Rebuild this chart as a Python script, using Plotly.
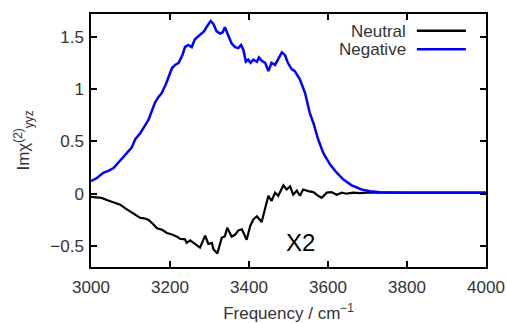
import plotly.graph_objects as go

# Negative (blue) series
neg_freq = [3000, 3015, 3031, 3045, 3057, 3070, 3082, 3093, 3103, 3112, 3125, 3135, 3146, 3155, 3162,
            3170, 3179, 3190, 3198, 3205, 3213, 3222, 3232, 3238, 3246, 3255, 3263, 3276, 3286, 3293,
            3303, 3310, 3318, 3327, 3333, 3339, 3348, 3356, 3365, 3373, 3380, 3386, 3392, 3398, 3404,
            3411, 3420, 3425, 3432, 3441, 3449, 3457, 3466, 3474, 3483, 3491, 3499, 3508, 3516, 3529,
            3542, 3554, 3563, 3575, 3588, 3605, 3622, 3639, 3660, 3685, 3706, 3732, 3760, 3800, 3900, 4000]
neg_vals = [0.12, 0.15, 0.20, 0.22, 0.245, 0.30, 0.36, 0.40, 0.44, 0.52, 0.58, 0.64, 0.71, 0.80, 0.87,
            0.92, 0.96, 1.05, 1.13, 1.20, 1.23, 1.25, 1.33, 1.40, 1.42, 1.40, 1.475, 1.52, 1.55, 1.595,
            1.65, 1.62, 1.55, 1.53, 1.54, 1.59, 1.505, 1.435, 1.40, 1.39, 1.42, 1.37, 1.26, 1.28, 1.25,
            1.28, 1.26, 1.30, 1.27, 1.25, 1.17, 1.25, 1.23, 1.28, 1.35, 1.325, 1.245, 1.19, 1.17, 1.09,
            0.96, 0.77, 0.675, 0.52, 0.39, 0.28, 0.20, 0.135, 0.08, 0.04, 0.024, 0.015, 0.012, 0.01, 0.01, 0.01]

# Neutral (black) series
neu_freq = [3000, 3015, 3027, 3040, 3048, 3060, 3074, 3087, 3099, 3110, 3124, 3135, 3146, 3157, 3167,
            3180, 3192, 3205, 3218, 3225, 3238, 3242, 3251, 3263, 3276, 3289, 3297, 3306, 3310, 3320,
            3331, 3339, 3345, 3356, 3365, 3373, 3382, 3394, 3403, 3411, 3420, 3432, 3441, 3449, 3457,
            3466, 3474, 3487, 3495, 3504, 3512, 3521, 3529, 3537, 3550, 3563, 3575, 3584, 3597, 3609,
            3622, 3635, 3647, 3664, 3681, 3700, 3800, 4000]
neu_vals = [-0.03, -0.035, -0.04, -0.06, -0.07, -0.085, -0.105, -0.14, -0.17, -0.19, -0.23, -0.235, -0.25, -0.29, -0.33,
            -0.345, -0.375, -0.39, -0.41, -0.43, -0.436, -0.47, -0.445, -0.48, -0.515, -0.40, -0.48, -0.47, -0.53, -0.57,
            -0.42, -0.405, -0.325, -0.41, -0.39, -0.35, -0.34, -0.44, -0.31, -0.245, -0.215, -0.27, -0.13, -0.02, -0.07,
            0.01, -0.02, 0.08, 0.04, 0.07, -0.01, 0.03, -0.02, 0.04, 0.025, 0.015, -0.02, -0.04, 0.01, 0.015,
            -0.01, 0.01, 0.0, 0.01, 0.005, 0.01, 0.01, 0.01]

x_ticks = [3000, 3200, 3400, 3600, 3800, 4000]
y_ticks = [-0.5, 0, 0.5, 1, 1.5]
y_tick_text = ["\u22120.5", "0", "0.5", "1", "1.5"]

FONT = "Liberation Sans, Arial, sans-serif"
TXT = "#333333"
FS = 17

fig = go.Figure()
fig.add_trace(go.Scatter(x=neu_freq, y=neu_vals, mode="lines", name="Neutral",
                         line=dict(color="black", width=2.2), showlegend=False))
fig.add_trace(go.Scatter(x=neg_freq, y=neg_vals, mode="lines", name="Negative",
                         line=dict(color="#0000ff", width=2.5), showlegend=False))

axis_common = dict(showline=True, linecolor="black", linewidth=1.5, mirror="ticks",
                   ticks="inside", ticklen=6, tickwidth=1.5, tickcolor="black",
                   showgrid=False, zeroline=False, automargin=False,
                   tickfont=dict(family=FONT, size=FS, color=TXT))

fig.update_xaxes(range=[3000, 4000], tickvals=x_ticks, ticktext=[str(v) for v in x_ticks],
                 ticklabelstandoff=4,
                 title=dict(text="Frequency / cm<sup>\u22121</sup>", font=dict(family=FONT, size=FS, color=TXT),
                            standoff=13),
                 **axis_common)
fig.update_yaxes(range=[-0.7, 1.716], tickvals=y_ticks, ticktext=y_tick_text,
                 ticklabelstandoff=2,
                 title=dict(text="Im\u03c7<sup>(2)</sup><sub>yyz</sub>", font=dict(family=FONT, size=FS, color=TXT),
                            standoff=16),
                 **axis_common)

# legend drawn text-then-line as in reference
fig.add_annotation(xref="paper", yref="paper", x=0.803, y=0.931, xanchor="right", yanchor="middle",
                   text="Neutral", showarrow=False, font=dict(family=FONT, size=FS, color=TXT))
fig.add_annotation(xref="paper", yref="paper", x=0.803, y=0.858, xanchor="right", yanchor="middle",
                   text="Negative", showarrow=False, font=dict(family=FONT, size=FS, color=TXT))
fig.add_shape(type="line", xref="paper", yref="paper", x0=0.825, x1=0.949, y0=0.934, y1=0.934,
              line=dict(color="black", width=2.5))
fig.add_shape(type="line", xref="paper", yref="paper", x0=0.825, x1=0.949, y0=0.861, y1=0.861,
              line=dict(color="#0000ff", width=2.5))

fig.add_annotation(x=3530, y=-0.47, text="X2", showarrow=False,
                   font=dict(family=FONT, size=24, color="black"))

fig.update_layout(width=507, height=323, margin=dict(l=91, r=21, t=14, b=56),
                  paper_bgcolor="white", plot_bgcolor="white", showlegend=False)

fig.write_html("out.html")
